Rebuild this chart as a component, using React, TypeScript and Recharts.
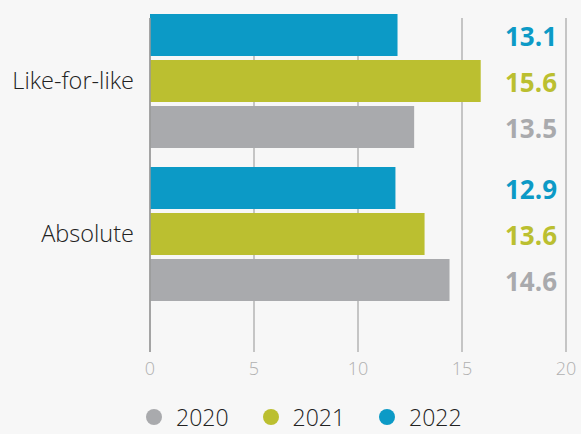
import React from 'react';
import { BarChart, Bar, XAxis, YAxis, CartesianGrid, LabelList } from 'recharts';

const categories = ['Like-for-like', 'Absolute'];
const years = ['2020', '2021', '2022'];
// bar lengths as drawn
const values2020 = [12.7, 14.4];
const values2021 = [15.9, 13.2];
const values2022 = [11.9, 11.8];
// printed figures in the right column
const labels2020 = ['13.5', '14.6'];
const labels2021 = ['15.6', '13.6'];
const labels2022 = ['13.1', '12.9'];
const xTicks = [0, 5, 10, 15, 20];

const colors: Record<string, string> = {
  '2020': '#a9aaad',
  '2021': '#bbbf30',
  '2022': '#0c9ac6',
};

const data = categories.map((name, i) => ({
  name,
  v2020: values2020[i],
  v2021: values2021[i],
  v2022: values2022[i],
  l2020: labels2020[i],
  l2021: labels2021[i],
  l2022: labels2022[i],
}));

const LABEL_X = 557;

const valueLabel = (color: string) => (props: any) => {
  const { y, height, value } = props;
  return (
    <text
      x={LABEL_X}
      y={Number(y) + Number(height) / 2 + 1}
      textAnchor="end"
      dominantBaseline="central"
      fill={color}
      fontSize={26}
      fontWeight={700}
    >
      {value}
    </text>
  );
};

const App: React.FC = () => {
  return (
    <div
      style={{
        position: 'absolute',
        left: 0,
        top: 0,
        width: 581,
        height: 434,
        background: '#f7f7f7',
        fontFamily: '"Open Sans", sans-serif',
        overflow: 'hidden',
      }}
    >
      <BarChart
        layout="vertical"
        width={581}
        height={434}
        data={data}
        margin={{ top: 18, right: 15, bottom: 52, left: 0 }}
        barGap={4}
        barSize={42}
      >
        <CartesianGrid horizontal={false} stroke="#a3a3a3" strokeWidth={1.2} />
        <XAxis
          type="number"
          domain={[0, 20]}
          ticks={xTicks}
          axisLine={false}
          tickLine={false}
          height={30}
          tickMargin={4}
          tick={{ fill: '#b0b0b0', fontSize: 18, fontWeight: 300 }}
        />
        {['2022', '2021', '2020'].map((y) => (
          <Bar
            key={y}
            dataKey={`v${y}`}
            fill={colors[y]}
            isAnimationActive={false}
          >
            <LabelList dataKey={`l${y}`} content={valueLabel(colors[y])} />
          </Bar>
        ))}
        <YAxis
          type="category"
          dataKey="name"
          width={150}
          padding={{ top: -14, bottom: 42 }}
          tickLine={false}
          axisLine={{ stroke: '#999999', strokeWidth: 1.5 }}
          tickMargin={10}
          tick={{ fill: '#222222', fontSize: 23.5, fontWeight: 300 }}
        />
      </BarChart>
      <div
        style={{
          position: 'absolute',
          left: 146,
          top: 402,
          display: 'flex',
          alignItems: 'center',
          height: 30,
        }}
      >
        {years.map((y) => (
          <div
            key={y}
            style={{ display: 'flex', alignItems: 'center', marginRight: 34 }}
          >
            <span
              style={{
                width: 16,
                height: 16,
                borderRadius: 8,
                background: colors[y],
                marginRight: 14,
              }}
            />
            <span
              style={{
                fontSize: 23,
                fontWeight: 300,
                color: '#222222',
                lineHeight: '24px',
              }}
            >
              {y}
            </span>
          </div>
        ))}
      </div>
    </div>
  );
};

export default App;
